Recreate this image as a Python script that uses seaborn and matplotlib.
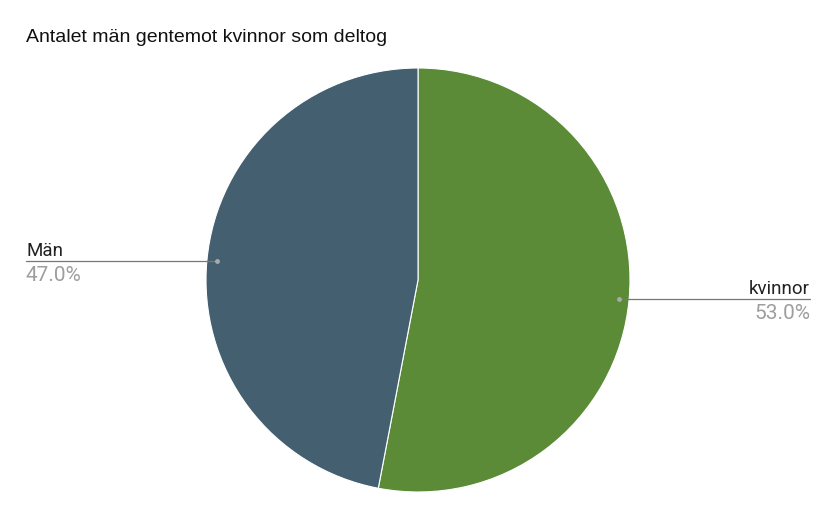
import numpy as np
import matplotlib
matplotlib.use("Agg")
import matplotlib.pyplot as plt
import seaborn as sns

# data
labels = ["kvinnor", "Män"]
shares = [53.0, 47.0]
colors = ["#5b8b37", "#446070"]
title = "Antalet män gentemot kvinnor som deltog"

sns.set_theme(style="white")
plt.rcParams["font.family"] = ["Roboto", "DejaVu Sans"]

W, H = 837, 518
fig = plt.figure(figsize=(W / 100, H / 100), dpi=100)

# pie centre at (418, 280) px, radius 212 px
cx, cy, r = 418, 280, 212
ax = fig.add_axes([(cx - r) / W, (H - cy - r) / H, 2 * r / W, 2 * r / H])

wedges, _ = ax.pie(shares, colors=colors, startangle=90, counterclock=False,
                   radius=1, wedgeprops=dict(edgecolor="white", linewidth=0.8))
ax.set_xlim(-1, 1)
ax.set_ylim(-1, 1)
ax.set_aspect("equal")
ax.axis("off")

# leader lines and labels
line_end = (cx - 26) / r  # horizontal reach in data units
for w, lab, val in zip(wedges, labels, shares):
    mid = np.deg2rad((w.theta1 + w.theta2) / 2)
    x0, y0 = 0.95 * np.cos(mid), 0.95 * np.sin(mid)
    side = 1 if x0 > 0 else -1
    x1 = side * line_end
    ax.plot([x0, x1], [y0, y0], color="#777777", lw=0.9, clip_on=False)
    ax.plot([x0], [y0], "o", ms=2.5, color="#aaaaaa", clip_on=False)
    ha = "right" if side > 0 else "left"
    ax.text(x1, y0 + 0.022, lab, ha=ha, va="baseline", fontsize=13.5,
            color="#222222", clip_on=False)
    ax.text(x1, y0 - 0.025, f"{val:.1f}%", ha=ha, va="top", fontsize=15,
            color="#9e9e9e", clip_on=False)

fig.text(26 / W, 1 - 38 / H, title, ha="left", va="center", fontsize=14,
         family=["Liberation Sans", "DejaVu Sans"], color="#111111")

fig.savefig("out.png", dpi=100, facecolor="white")
